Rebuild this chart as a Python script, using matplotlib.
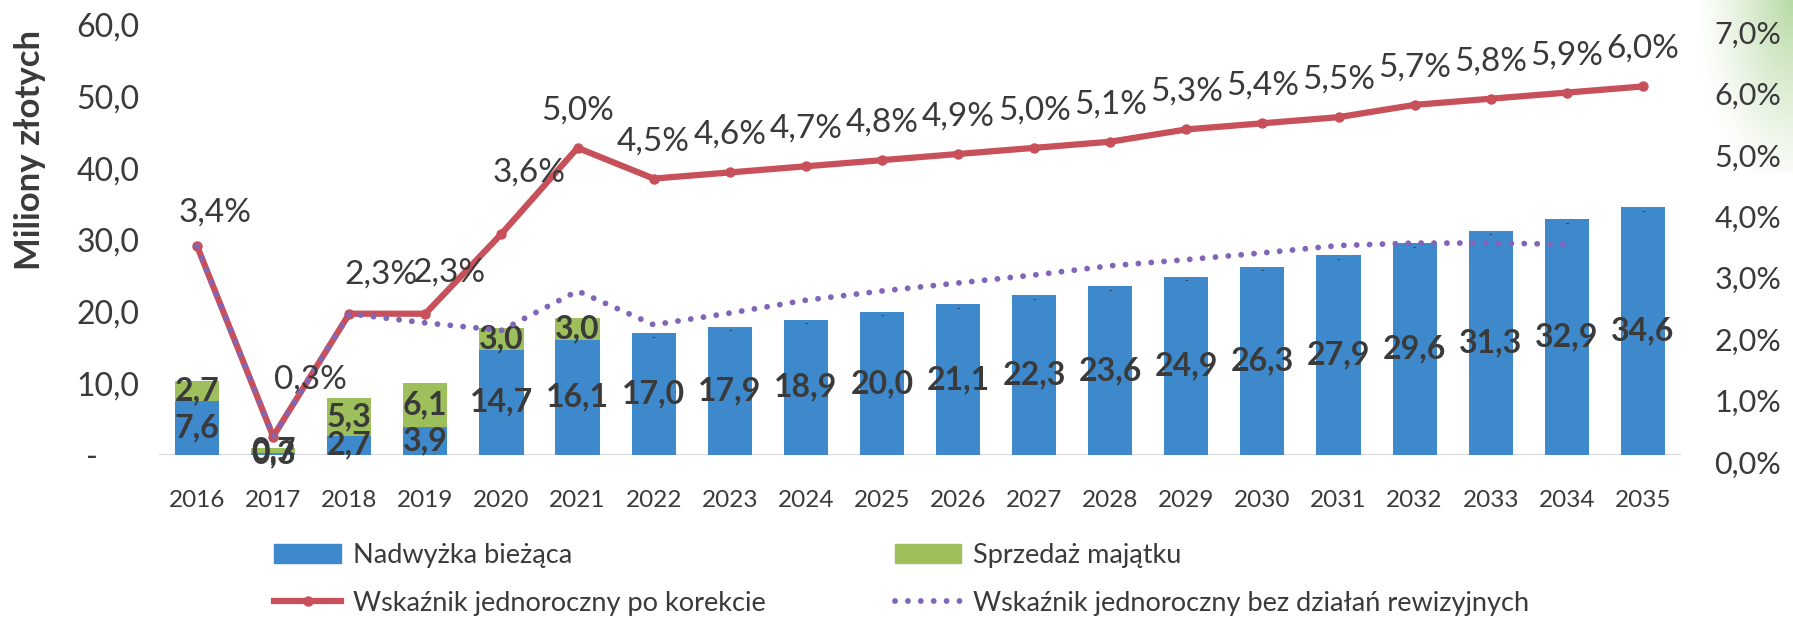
import numpy as np
import matplotlib
matplotlib.use('Agg')
import matplotlib.pyplot as plt
import matplotlib.transforms as mtransforms
from matplotlib.patches import Patch
from matplotlib.lines import Line2D

plt.rcParams['font.family'] = ['Lato', 'DejaVu Sans']

# data
years = [2016, 2017, 2018, 2019, 2020, 2021, 2022, 2023, 2024, 2025,
         2026, 2027, 2028, 2029, 2030, 2031, 2032, 2033, 2034, 2035]
surplus = [7.6, 0.3, 2.7, 3.9, 14.7, 16.1, 17.0, 17.9, 18.9, 20.0,
           21.1, 22.3, 23.6, 24.9, 26.3, 27.9, 29.6, 31.3, 32.9, 34.6]
asset_sale = [2.7, 0.7, 5.3, 6.1, 3.0, 3.0, 0, 0, 0, 0,
              0, 0, 0, 0, 0, 0, 0, 0, 0, 0]
ratio_corrected = [3.4, 0.3, 2.3, 2.3, 3.6, 5.0, 4.5, 4.6, 4.7, 4.8,
                   4.9, 5.0, 5.1, 5.3, 5.4, 5.5, 5.7, 5.8, 5.9, 6.0]
ratio_no_revision = [3.4, 0.3, 2.3, 2.15, 2.03, 2.67, 2.12, 2.31, 2.52, 2.67,
                     2.80, 2.93, 3.08, 3.18, 3.29, 3.41, 3.45, 3.45, 3.43, np.nan]
left_ticks = [0, 10, 20, 30, 40, 50, 60]
right_ticks = [0, 1, 2, 3, 4, 5, 6, 7]

BLUE = '#3e89cc'
GREEN = '#9dbf5c'
RED = '#c8505a'
PURPLE = '#8065b8'
TXT = '#3a3a3a'


def fmt(v):
    return ('%.1f' % v).replace('.', ',')


fig = plt.figure(figsize=(17.93, 6.18), dpi=100)

# soft green tint in the top right corner of the page
gax = fig.add_axes([0.93, 0.72, 0.07, 0.28], zorder=-5)
gax.axis('off')
gy, gxx = np.mgrid[0:1:100j, 0:1:100j]
dist = np.sqrt((1 - gxx) ** 2 * 1.6 + (gy) ** 2 * 0.7)
alpha = np.clip(1 - dist / 1.0, 0, 1) ** 1.3 * 0.75
img = np.zeros((100, 100, 4))
img[..., 0] = 0.62
img[..., 1] = 0.80
img[..., 2] = 0.52
img[..., 3] = alpha
gax.imshow(img, aspect='auto', extent=[0, 1, 0, 1], origin='upper')

ax = fig.add_axes([0.0887, 0.2638, 0.8488, 0.6957])
x = np.arange(len(years))
ax.bar(x, surplus, width=0.58, color=BLUE, zorder=2)
ax.bar(x, asset_sale, width=0.58, bottom=surplus, color=GREEN, zorder=2)
ax.set_xlim(-0.5, len(years) - 0.5)
ax.set_ylim(0, 60)
ax.axhline(0, color='#d9d9d9', lw=1.5, zorder=1)

for s in ax.spines.values():
    s.set_visible(False)
ax.set_yticks(left_ticks)
ax.set_yticklabels(['-     '] + [fmt(t) for t in left_ticks[1:]])
ax.set_xticks(x)
ax.set_xticklabels([str(y) for y in years])
ax.tick_params(axis='y', length=0, pad=14, labelsize=23, labelcolor=TXT)
ax.tick_params(axis='x', length=0, pad=25, labelsize=17.5, labelcolor=TXT)
ax.set_ylabel('Miliony złotych', fontsize=25, fontweight='bold', color=TXT)
ax.yaxis.set_label_coords(-0.074, 0.71)

# bar labels
for i in range(len(years)):
    ax.text(x[i], surplus[i] / 2, fmt(surplus[i]), ha='center', va='center',
            fontsize=23, fontweight='bold', color=TXT, zorder=5)
    if asset_sale[i] > 0:
        ax.text(x[i], surplus[i] + asset_sale[i] / 2, fmt(asset_sale[i]),
                ha='center', va='center', fontsize=23, fontweight='bold',
                color=TXT, zorder=5)
    else:
        ax.text(x[i], surplus[i] - 0.6, '-', ha='center', va='center',
                fontsize=7, fontweight='bold', color=TXT, zorder=5)

ax2 = ax.twinx()
ax2.set_ylim(0, 7)
for s in ax2.spines.values():
    s.set_visible(False)
ax2.set_yticks(right_ticks)
ax2.set_yticklabels([fmt(t) + '%' for t in right_ticks])
ax2.tick_params(axis='y', length=0, pad=24, labelsize=22, labelcolor=TXT)
shift = mtransforms.ScaledTranslation(0, -5 / 72, fig.dpi_scale_trans)
for lab in ax2.get_yticklabels():
    lab.set_transform(lab.get_transform() + shift)

ax2.plot(x, ratio_corrected, color=RED, lw=4.5, marker='o', ms=6.5, zorder=3)
ax2.plot(x, ratio_no_revision, color=PURPLE, lw=4.2,
         linestyle=(0, (0.01, 2.2)), dash_capstyle='round', zorder=4)

# percent labels, a few early ones nudged like in the original
nudge = {0: (13, 24), 1: (27, 41), 2: (23, 28), 3: (17, 30), 4: (20, 44)}
for i, v in enumerate(ratio_corrected):
    dx, dy = nudge.get(i, (0, 27))
    ax2.annotate(fmt(v) + '%', (x[i], v), xytext=(dx, dy),
                 textcoords='offset points', ha='center', va='center',
                 fontsize=24, color=TXT, zorder=6)

handles = [
    Patch(color=BLUE),
    Line2D([], [], color=RED, lw=4.5, marker='o', ms=6.5),
    Patch(color=GREEN),
    Line2D([], [], color=PURPLE, lw=4.2, linestyle=(0, (0.01, 2.2)),
           dash_capstyle='round'),
]
labels = ['Nadwyżka bieżąca', 'Wskaźnik jednoroczny po korekcie',
          'Sprzedaż majątku', 'Wskaźnik jednoroczny bez działań rewizyjnych']
fig.legend(handles, labels, ncol=2, loc='upper left',
           bbox_to_anchor=(0.153, 0.122), frameon=False, fontsize=19.5,
           handlelength=2.45, handletextpad=0.45, columnspacing=4.76,
           labelspacing=0.85, borderpad=0, borderaxespad=0,
           labelcolor=TXT)

fig.savefig('out.png', dpi=100)
